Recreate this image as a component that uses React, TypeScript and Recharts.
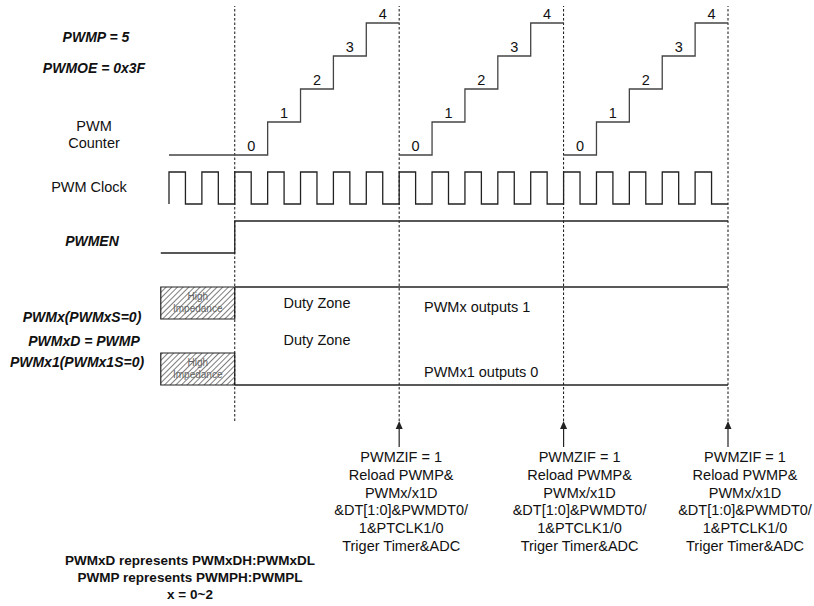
import { ComposedChart, Line, XAxis, YAxis, ReferenceLine, ReferenceArea, LabelList, Customized } from 'recharts';

// time is measured in PWM clock periods
const counterTime = [0, 3, 4, 5, 6, 7, 7, 7, 8, 9, 10, 11, 12, 12, 12, 13, 14, 15, 16, 17];
const counterValue = [0, 1, 2, 3, 4, 4, null, 0, 1, 2, 3, 4, 4, null, 0, 1, 2, 3, 4, 4];

const counterLabelTime = [2, 3, 4, 5, 6, 7, 8, 9, 10, 11, 12, 13, 14, 15, 16];
const counterLabelValue = [0, 1, 2, 3, 4, 0, 1, 2, 3, 4, 0, 1, 2, 3, 4];

// one entry per half clock period, starting at t = 0
const clockLevels = [
  1, 0, 1, 0, 1, 0, 1, 0, 1, 0, 1, 0, 1, 0, 1, 0, 1, 0,
  1, 0, 1, 0, 1, 0, 1, 0, 1, 0, 1, 0, 1, 0, 1, 0,
];

const enableTime = [-0.25, 2, 17];
const enableValue = [0, 1, 1];

const pwmxTime = [2, 17];
const pwmxValue = [1, 1];
const pwmx1Time = [2, 17];
const pwmx1Value = [0, 0];

const hiZStart = -0.25;
const hiZEnd = 2;

const periodMarks = [2, 7, 12, 17];
const reloadMarks = [7, 12, 17];

const reloadText = [
  'PWMZIF = 1',
  'Reload PWMP&',
  'PWMx/x1D',
  '&DT[1:0]&PWMDT0/',
  '1&PTCLK1/0',
  'Triger Timer&ADC',
];

const notes = ['PWMxD represents PWMxDH:PWMxDL', 'PWMP represents PWMPH:PWMPL', 'x = 0~2'];

// layout
const W = 814;
const H = 606;
const PLOT_TOP = 6;
const PLOT_BOTTOM = 421;
const FONT = '"Liberation Sans", Arial, sans-serif';
const INK = '#222';

const zip = (t: number[], v: (number | null)[]) => t.map((x, i) => ({ t: x, v: v[i] }));

// domain so that vTop lands on pixel pTop and vBot on pixel pBot
const yDomain = (vTop: number, pTop: number, vBot: number, pBot: number): [number, number] => {
  const k = (pBot - pTop) / (vTop - vBot);
  const hi = vTop + (pTop - PLOT_TOP) / k;
  return [hi - (PLOT_BOTTOM - PLOT_TOP) / k, hi];
};

const xK = (728 - 169) / 17;
const xLo = -169 / xK;
const xDomain: [number, number] = [xLo, xLo + W / xK];

const counterData = zip(counterTime, counterValue);
const counterLabelData = counterLabelTime.map((t, i) => ({ t: t + 0.5, v: counterLabelValue[i] }));
const clockData = [
  { t: 0, v: 0 },
  ...clockLevels.map((v, i) => ({ t: i * 0.5, v })),
  { t: 17, v: clockLevels[clockLevels.length - 1] },
];
const enableData = zip(enableTime, enableValue);
const pwmxData = zip(pwmxTime, pwmxValue);
const pwmx1Data = zip(pwmx1Time, pwmx1Value);

const textOffsets = [2, 16, 17];

const ReloadLabel = (props: any) => {
  const vb = props.viewBox || {};
  const x = vb.x;
  const bottom = vb.y + vb.height;
  const idx = reloadMarks.indexOf(props.mark);
  const tx = x + textOffsets[idx];
  return (
    <g>
      <line x1={x} y1={bottom + 6} x2={x} y2={bottom + 26} stroke={INK} strokeWidth={1.2} />
      <polygon points={`${x},${bottom} ${x - 3.5},${bottom + 8} ${x + 3.5},${bottom + 8}`} fill={INK} />
      <text x={tx} y={bottom + 41} textAnchor="middle" fontFamily={FONT} fontSize={14.5} fill="#111">
        {reloadText.map((s, i) => (
          <tspan key={i} x={tx} dy={i === 0 ? 0 : 17.8}>
            {s}
          </tspan>
        ))}
      </text>
    </g>
  );
};

const HiZLabel = (props: any) => {
  const vb = props.viewBox || {};
  const cx = vb.x + vb.width / 2;
  return (
    <text x={cx} y={vb.y + 13} textAnchor="middle" fontFamily={FONT} fontSize={10} fill="#666">
      <tspan x={cx}>High</tspan>
      <tspan x={cx} dy={12}>Impedance</tspan>
    </text>
  );
};

const bi = { fontWeight: 'bold', fontStyle: 'italic' } as const;

const rowLabels = [
  { text: 'PWMP = 5', x: 96, y: 42, style: bi },
  { text: 'PWMOE = 0x3F', x: 94, y: 73, style: bi },
  { text: 'PWM', x: 94, y: 131, style: {} },
  { text: 'Counter', x: 94, y: 148, style: {} },
  { text: 'PWM Clock', x: 89, y: 192, style: {} },
  { text: 'PWMEN', x: 92, y: 246, style: bi },
  { text: 'PWMx(PWMxS=0)', x: 82, y: 322, style: bi },
  { text: 'PWMxD = PWMP', x: 84, y: 346, style: bi },
  { text: 'PWMx1(PWMx1S=0)', x: 77, y: 367, style: bi },
];

const zoneLabels = [
  { text: 'Duty Zone', x: 317, y: 308, anchor: 'middle' },
  { text: 'Duty Zone', x: 317, y: 345, anchor: 'middle' },
  { text: 'PWMx outputs 1', x: 424, y: 312, anchor: 'start' },
  { text: 'PWMx1 outputs 0', x: 424, y: 377, anchor: 'start' },
];

const StaticText = () => (
  <g fontFamily={FONT} fill="#111">
    <defs>
      <pattern id="hatch" width="4" height="4" patternUnits="userSpaceOnUse" patternTransform="rotate(45)">
        <rect width="4" height="4" fill="#fff" />
        <line x1="0" y1="0" x2="0" y2="4" stroke="#111" strokeWidth="1.1" />
      </pattern>
    </defs>
    {rowLabels.map((l, i) => (
      <text key={i} x={l.x} y={l.y} textAnchor="middle" fontSize={l.style === bi ? 14 : 14.5} {...l.style}>
        {l.text}
      </text>
    ))}
    {zoneLabels.map((l, i) => (
      <text key={`z${i}`} x={l.x} y={l.y} textAnchor={l.anchor as any} fontSize={14.5}>
        {l.text}
      </text>
    ))}
    {notes.map((s, i) => (
      <text key={`n${i}`} x={190} y={565 + i * 17.2} textAnchor="middle" fontWeight="bold" fontSize={13.5}>
        {s}
      </text>
    ))}
  </g>
);

export default function App() {
  const lineProps = {
    type: 'stepAfter' as const,
    dataKey: 'v',
    stroke: INK,
    strokeWidth: 1.3,
    dot: false,
    activeDot: false,
    isAnimationActive: false,
    connectNulls: false,
  };
  return (
    <div style={{ position: 'absolute', left: 0, top: 0, width: W, height: H, background: '#fff' }}>
      <ComposedChart width={W} height={H} margin={{ top: PLOT_TOP, right: 0, bottom: H - PLOT_BOTTOM, left: 0 }}>
        <XAxis type="number" dataKey="t" domain={xDomain} allowDataOverflow hide />
        <YAxis yAxisId="cnt" type="number" domain={yDomain(4, 23, 0, 155)} allowDataOverflow hide />
        <YAxis yAxisId="clk" type="number" domain={yDomain(1, 172, 0, 204)} allowDataOverflow hide />
        <YAxis yAxisId="en" type="number" domain={yDomain(1, 221, 0, 253)} allowDataOverflow hide />
        <YAxis yAxisId="px" type="number" domain={yDomain(1, 287, 0, 319)} allowDataOverflow hide />
        <YAxis yAxisId="px1" type="number" domain={yDomain(1, 353, 0, 385)} allowDataOverflow hide />

        <Customized component={StaticText} />

        <ReferenceArea
          yAxisId="px"
          x1={hiZStart}
          x2={hiZEnd}
          y1={0}
          y2={1}
          fill="url(#hatch)"
          fillOpacity={1}
          stroke={INK}
          strokeWidth={1.2}
          ifOverflow="visible"
          label={HiZLabel}
        />
        <ReferenceArea
          yAxisId="px1"
          x1={hiZStart}
          x2={hiZEnd}
          y1={0}
          y2={1}
          fill="url(#hatch)"
          fillOpacity={1}
          stroke={INK}
          strokeWidth={1.2}
          ifOverflow="visible"
          label={HiZLabel}
        />

        {periodMarks.map((m) => (
          <ReferenceLine
            key={m}
            yAxisId="cnt"
            x={m}
            stroke="#111"
            strokeWidth={1}
            strokeDasharray="2.5 2"
            ifOverflow="visible"
            label={reloadMarks.includes(m) ? (p: any) => <ReloadLabel {...p} mark={m} /> : undefined}
          />
        ))}

        <Line {...lineProps} yAxisId="cnt" data={counterData} stroke="#444" />
        <Line
          yAxisId="cnt"
          data={counterLabelData}
          dataKey="v"
          stroke="none"
          dot={false}
          activeDot={false}
          isAnimationActive={false}
        >
          <LabelList dataKey="v" position="top" offset={4} fill="#111" fontSize={14.5} fontFamily={FONT} />
        </Line>
        <Line {...lineProps} yAxisId="clk" data={clockData} />
        <Line {...lineProps} yAxisId="en" data={enableData} />
        <Line {...lineProps} yAxisId="px" data={pwmxData} />
        <Line {...lineProps} yAxisId="px1" data={pwmx1Data} />
      </ComposedChart>
    </div>
  );
}
